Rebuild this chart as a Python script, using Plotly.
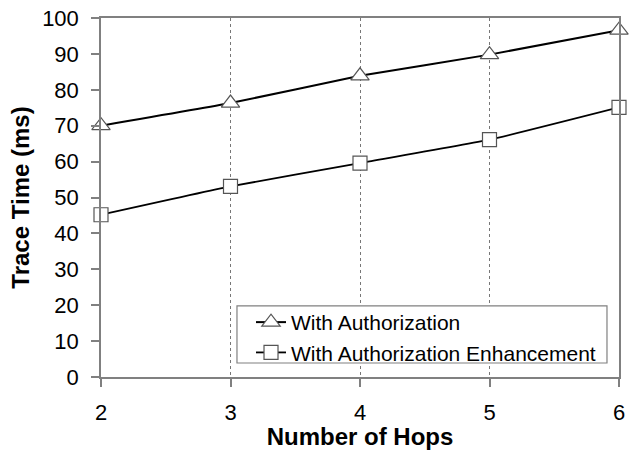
import plotly.graph_objects as go

hops = [2, 3, 4, 5, 6]
with_auth = [70, 76.3, 83.9, 89.8, 96.6]
with_auth_enh = [45.2, 53.1, 59.6, 66.1, 75.1]
series_names = ["With Authorization", "With Authorization Enhancement"]

fig = go.Figure()
fig.add_trace(go.Scatter(
    x=hops, y=with_auth, name=series_names[0], mode="lines+markers",
    line=dict(color="black", width=2, shape="spline", smoothing=0.4),
    marker=dict(symbol="triangle-up", size=16, color="white",
                line=dict(color="#555555", width=1.2)),
    cliponaxis=False,
))
fig.add_trace(go.Scatter(
    x=hops, y=with_auth_enh, name=series_names[1], mode="lines+markers",
    line=dict(color="black", width=1.8, shape="spline", smoothing=0.4),
    marker=dict(symbol="square", size=14, color="white",
                line=dict(color="#555555", width=1.2)),
    cliponaxis=False,
))

# legend frame (drawn as a shape so the padding matches the original)
fig.add_shape(type="rect", xref="paper", yref="paper",
              x0=0.2625, x1=0.9768, y0=0.039, y1=0.198,
              line=dict(color="#808080", width=1.2), fillcolor="white",
              layer="above")

axis_font = dict(family="Liberation Sans, Arial", size=22, color="black")
fig.update_layout(
    width=632, height=450,
    margin=dict(l=101, r=13, t=18, b=73),
    paper_bgcolor="white", plot_bgcolor="white",
    font=dict(family="Liberation Sans, Arial", color="black"),
    showlegend=True,
    legend=dict(
        x=0.2896, y=0.209, xanchor="left", yanchor="top",
        bgcolor="rgba(0,0,0,0)", borderwidth=0,
        font=dict(size=21, color="black"),
        tracegroupgap=0, itemwidth=30,
    ),
    xaxis=dict(
        range=[2, 6], tickvals=hops, ticktext=[str(h) for h in hops],
        showline=True, linecolor="#808080", linewidth=1.5, mirror=True,
        ticks="outside", ticklen=8, tickcolor="#808080", tickwidth=1.5,
        ticklabelstandoff=7, ticklabeloverflow="allow",
        showgrid=True, gridcolor="#777777", griddash="dot", gridwidth=1,
        zeroline=False, tickfont=axis_font, automargin=False,
        title=dict(text="<b>Number of Hops</b>", font=dict(size=24), standoff=0),
    ),
    yaxis=dict(
        range=[0, 100], dtick=10,
        showline=True, linecolor="#808080", linewidth=1.5, mirror=True,
        ticks="outside", ticklen=8, tickcolor="#808080", tickwidth=1.5,
        ticklabelstandoff=8, ticklabeloverflow="allow",
        showgrid=False, zeroline=False, tickfont=axis_font, automargin=False,
        title=dict(text="<b>Trace Time (ms)</b>", font=dict(size=24), standoff=6),
    ),
)

fig.write_html(
    "out.html",
    config={"displayModeBar": False},
    post_script="document.body.style.margin='0';document.body.style.overflow='hidden';",
)
